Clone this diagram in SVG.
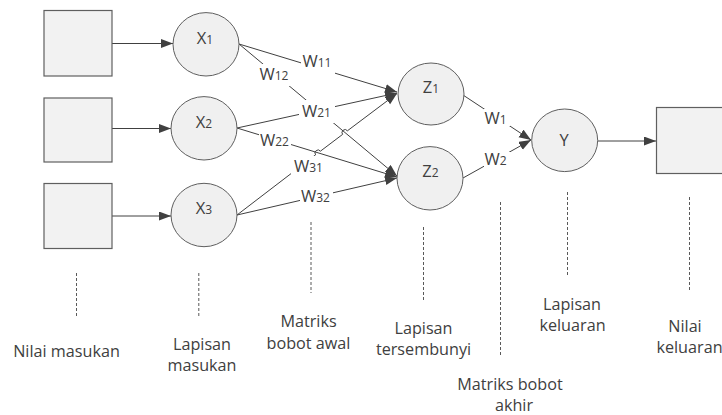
<svg xmlns="http://www.w3.org/2000/svg" width="722" height="415" viewBox="0 0 722 415">
  <defs>
    <marker id="arrow" markerUnits="userSpaceOnUse" markerWidth="13" markerHeight="10" refX="12" refY="4.5" orient="auto">
      <path d="M0,0 L12,4.5 L0,9 Z" fill="#404040"/>
    </marker>
  </defs>
  <style>
    .box { fill: #f2f2f2; stroke: #5f5f5f; stroke-width: 1.2; }
    .node { fill: #f0f0f0; stroke: #5f5f5f; stroke-width: 1; }
    .edge { fill: none; stroke: #404040; stroke-width: 1; }
    .arrow { marker-end: url(#arrow); }
    .guide { fill: none; stroke: #595959; stroke-width: 1; stroke-dasharray: 3 2; }
    .lbl { font-family: "Open Sans", "Noto Sans", sans-serif; fill: #404040; }
    .nl { font-size: 16.5px; text-anchor: middle; }
    .wl { font-size: 16.5px; }
    .sub { font-size: 12px; }
    .cap { font-size: 16.2px; text-anchor: middle; }
    .mask { fill: #ffffff; }
  </style>
  <rect width="722" height="415" fill="#ffffff"/>

  <!-- connectors -->
  <g id="connectors">
    <!-- input values to input layer -->
    <line class="edge arrow" x1="112" y1="43.5" x2="173" y2="43.5"/>
    <line class="edge arrow" x1="112" y1="128.5" x2="171" y2="128.5"/>
    <line class="edge arrow" x1="112" y1="216" x2="171" y2="216"/>
    <!-- input layer to hidden layer -->
    <line class="edge arrow" x1="239" y1="44" x2="397" y2="92"/>
    <line class="edge arrow" x1="239" y1="44" x2="397" y2="176"/>
    <line class="edge arrow" x1="237" y1="128" x2="397" y2="93"/>
    <line class="edge arrow" x1="237" y1="128" x2="397" y2="177"/>
    <path class="edge arrow" d="M237,215 L315.6,154.8 A3,3 0 0 1 320.4,151.2 L342.6,134.4 A3,3 0 0 1 347.4,130.8 L397,93.5"/>
    <line class="edge arrow" x1="237" y1="215" x2="397" y2="178"/>
    <!-- hidden layer to output layer -->
    <line class="edge arrow" x1="463" y1="95" x2="531" y2="140"/>
    <line class="edge arrow" x1="463" y1="178" x2="531" y2="140"/>
    <!-- output layer to output value -->
    <line class="edge arrow" x1="598" y1="141" x2="656" y2="141"/>

    <!-- weight labels -->
    <rect class="mask" x="301" y="53" width="34" height="21"/>
    <text class="lbl wl" x="302.5" y="66.5">W<tspan class="sub">11</tspan></text>
    <rect class="mask" x="258" y="64" width="34" height="22"/>
    <text class="lbl wl" x="259.5" y="80">W<tspan class="sub">12</tspan></text>
    <rect class="mask" x="299" y="100" width="36" height="23"/>
    <text class="lbl wl" x="302" y="116.5">W<tspan class="sub">21</tspan></text>
    <rect class="mask" x="259" y="133" width="32" height="17"/>
    <text class="lbl wl" x="260" y="146">W<tspan class="sub">22</tspan></text>
    <rect class="mask" x="291" y="156" width="35" height="21"/>
    <text class="lbl wl" x="294" y="172">W<tspan class="sub">31</tspan></text>
    <rect class="mask" x="300" y="189" width="33" height="16"/>
    <text class="lbl wl" x="301" y="201.5">W<tspan class="sub">32</tspan></text>
    <rect class="mask" x="484" y="109" width="26" height="17"/>
    <text class="lbl wl" x="484.5" y="123.5">W<tspan class="sub">1</tspan></text>
    <rect class="mask" x="484" y="152" width="26" height="16"/>
    <text class="lbl wl" x="484.5" y="165">W<tspan class="sub">2</tspan></text>
  </g>

  <!-- input values -->
  <g id="in1"><rect class="box" x="44" y="10.5" width="68" height="65.5"/></g>
  <g id="in2"><rect class="box" x="44" y="98" width="68" height="64"/></g>
  <g id="in3"><rect class="box" x="44" y="183.5" width="68" height="65"/></g>

  <!-- input layer -->
  <g id="x1">
    <ellipse class="node" cx="206" cy="44.3" rx="33" ry="31.7"/>
    <text class="lbl nl" x="205" y="43.5">X<tspan class="sub">1</tspan></text>
  </g>
  <g id="x2">
    <ellipse class="node" cx="204" cy="128.3" rx="33" ry="31.7"/>
    <text class="lbl nl" x="204" y="127.5">X<tspan class="sub">2</tspan></text>
  </g>
  <g id="x3">
    <ellipse class="node" cx="204" cy="215" rx="33" ry="31.7"/>
    <text class="lbl nl" x="204" y="213.5">X<tspan class="sub">3</tspan></text>
  </g>

  <!-- hidden layer -->
  <g id="z1">
    <ellipse class="node" cx="431" cy="94" rx="33" ry="31"/>
    <text class="lbl nl" x="431" y="92.5">Z<tspan class="sub">1</tspan></text>
  </g>
  <g id="z2">
    <ellipse class="node" cx="430" cy="178.3" rx="33" ry="31.7"/>
    <text class="lbl nl" x="430.5" y="176.8">Z<tspan class="sub">2</tspan></text>
  </g>

  <!-- output layer -->
  <g id="y">
    <ellipse class="node" cx="564.7" cy="140.3" rx="33" ry="31.3"/>
    <text class="lbl nl" x="564.2" y="146">Y</text>
  </g>

  <!-- output value -->
  <g id="out"><rect class="box" x="656.5" y="107.5" width="70" height="66"/></g>

  <!-- column guides and captions -->
  <g id="captions">
    <line class="guide" x1="76.5" y1="273" x2="76.5" y2="317"/>
    <line class="guide" x1="198.8" y1="273" x2="198.8" y2="317"/>
    <line class="guide" x1="311" y1="222" x2="311" y2="293"/>
    <line class="guide" x1="423.5" y1="227" x2="423.5" y2="300"/>
    <line class="guide" x1="500.5" y1="202" x2="500.5" y2="357"/>
    <line class="guide" x1="567.5" y1="192" x2="567.5" y2="277"/>
    <line class="guide" x1="689.5" y1="197" x2="689.5" y2="292"/>

    <text class="lbl cap" x="66.5" y="357">Nilai masukan</text>
    <text class="lbl cap" x="202" y="349.5">Lapisan</text>
    <text class="lbl cap" x="202" y="370.7">masukan</text>
    <text class="lbl cap" x="308.5" y="327.3">Matriks</text>
    <text class="lbl cap" x="308.5" y="349.3">bobot awal</text>
    <text class="lbl cap" x="423.5" y="334">Lapisan</text>
    <text class="lbl cap" x="423.5" y="355">tersembunyi</text>
    <text class="lbl cap" x="510" y="390">Matriks bobot</text>
    <text class="lbl cap" x="514" y="411">akhir</text>
    <text class="lbl cap" x="572" y="310">Lapisan</text>
    <text class="lbl cap" x="572.5" y="330.7">keluaran</text>
    <text class="lbl cap" x="685" y="331.7">Nilai</text>
    <text class="lbl cap" x="689.5" y="352.7">keluaran</text>
  </g>
</svg>
